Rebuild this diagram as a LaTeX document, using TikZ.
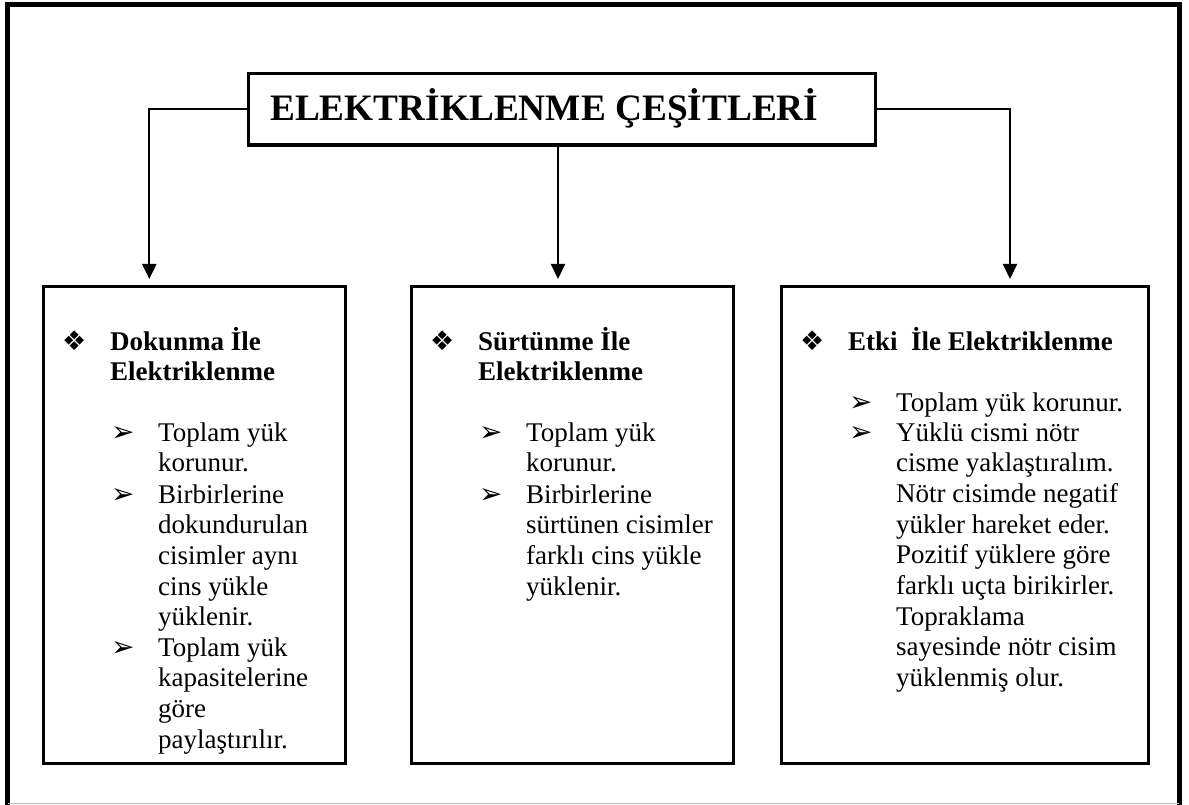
\documentclass[tikz,border=0pt]{standalone}
\usepackage{fontspec}
\setmainfont{Liberation Serif}
\newfontfamily\dingfont{DejaVu Sans}
\usetikzlibrary{arrows.meta}

\newcommand\bodysize{\fontsize{27}{30.7}\selectfont}
\newcommand\headsize{\fontsize{27}{30}\selectfont\bfseries}
\newcommand\diamondsize{\dingfont\fontsize{27}{27}\selectfont}
\newcommand\arrowsize{\dingfont\fontsize{28}{28}\selectfont}

\tikzset{
  frameline/.style={line width=5pt, line cap=rect},
  panel/.style={draw, line width=3pt, inner sep=0pt, anchor=north west},
  conn/.style={line width=2pt, -{Triangle[length=15pt,width=14pt]}},
  txt/.style={anchor=base west, inner sep=0pt},
}

\begin{document}
\begin{tikzpicture}[x=1pt, y=-1pt]
  \useasboundingbox (0,0) rectangle (1189,805);

  % outer frame
  \draw[frameline] (7.5,805) -- (7.5,4.5) -- (1179,4.5) -- (1179,805);
  \draw[line width=1pt, black!25] (7.5,803.5) -- (1179,803.5);

  % title
  \node[draw, line width=3.5pt, minimum width=627pt, minimum height=71.5pt, inner sep=0pt]
    (title) at (562,109.25) {};
  \node[txt] (titletext) at (270,120.5) {\fontsize{37.3}{40}\selectfont\bfseries ELEKTRİKLENME ÇEŞİTLERİ};

  % three panels
  \node[panel, minimum width=302pt, minimum height=477pt] (b1) at (41.5,284.5) {};
  \node[panel, minimum width=322pt, minimum height=477pt] (b2) at (409.5,284.5) {};
  \node[panel, minimum width=367pt, minimum height=477pt] (b3) at (779.5,284.5) {};

  % connectors
  \coordinate (t1) at (149.3,279);
  \coordinate (t2) at (558,279);
  \coordinate (t3) at (1010,279);
  \draw[conn] (title.west) -| (t1);
  \draw[conn] (title.south -| t2) -- (t2);
  \draw[conn] (title.east) -| (t3);

  % panel 1
  \node[txt] (p1h) at (62,350) {\diamondsize ❖};
  \node[txt] (p1ht) at (110,350) {\parbox[t]{230pt}{\headsize Dokunma İle\\Elektriklenme}};
  \node[txt] (p1a) at (111,441) {\arrowsize ➢};
  \node[txt] (p1at) at (158,441) {\parbox[t]{220pt}{\bodysize Toplam yük\\korunur.}};
  \node[txt] (p1b) at (111,503) {\arrowsize ➢};
  \node[txt] (p1bt) at (158,503) {\parbox[t]{220pt}{\bodysize Birbirlerine\\dokundurulan\\cisimler aynı\\cins yükle\\yüklenir.}};
  \node[txt] (p1c) at (111,656) {\arrowsize ➢};
  \node[txt] (p1ct) at (158,656) {\parbox[t]{220pt}{\bodysize Toplam yük\\kapasitelerine\\göre\\paylaştırılır.}};

  % panel 2
  \node[txt] (p2h) at (430,350) {\diamondsize ❖};
  \node[txt] (p2ht) at (478,350) {\parbox[t]{250pt}{\headsize Sürtünme İle\\Elektriklenme}};
  \node[txt] (p2a) at (479,441) {\arrowsize ➢};
  \node[txt] (p2at) at (526,441) {\parbox[t]{240pt}{\bodysize Toplam yük\\korunur.}};
  \node[txt] (p2b) at (479,503) {\arrowsize ➢};
  \node[txt] (p2bt) at (526,503) {\parbox[t]{240pt}{\bodysize Birbirlerine\\sürtünen cisimler\\farklı cins yükle\\yüklenir.}};

  % panel 3
  \node[txt] (p3h) at (800,350) {\diamondsize ❖};
  \node[txt] (p3ht) at (848,350) {\parbox[t]{320pt}{\headsize Etki\ \ İle Elektriklenme}};
  \node[txt] (p3a) at (849,411) {\arrowsize ➢};
  \node[txt] (p3at) at (896,411) {\parbox[t]{280pt}{\bodysize Toplam yük korunur.}};
  \node[txt] (p3b) at (849,441) {\arrowsize ➢};
  \node[txt] (p3bt) at (896,441) {\parbox[t]{280pt}{\bodysize Yüklü cismi nötr\\cisme yaklaştıralım.\\Nötr cisimde negatif\\yükler hareket eder.\\Pozitif yüklere göre\\farklı uçta birikirler.\\Topraklama\\sayesinde nötr cisim\\yüklenmiş olur.}};
\end{tikzpicture}
\end{document}
